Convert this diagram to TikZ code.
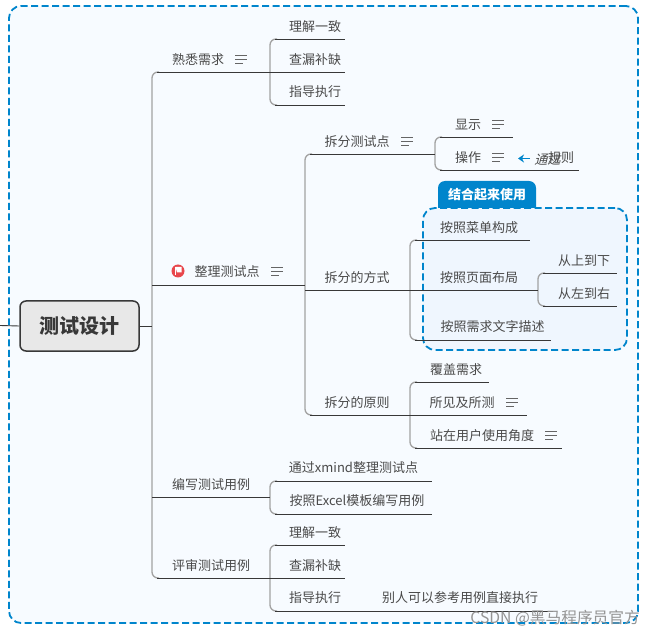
\documentclass[tikz,border=0pt]{standalone}
\usepackage{fontspec}
\usepackage{xcolor}
\usetikzlibrary{arrows.meta}
\setmainfont{Noto Sans CJK SC}
\definecolor{inkgray}{HTML}{4A4A4A}
\definecolor{forkgray}{HTML}{A2A2A2}
\definecolor{markblue}{HTML}{0085CC}
\definecolor{outerfill}{HTML}{F7FBFF}
\definecolor{selfill}{HTML}{EFF6FE}
\definecolor{flagred}{HTML}{E8474C}
\tikzset{
	topic/.style={inner sep=0pt,yshift=-0.6pt,text=inkgray,font=\fontsize{13}{15}\selectfont},
	uline/.style={draw=black!78,line width=0.9pt},
	elbow/.style={draw=forkgray,line width=1.3pt,rounded corners=6pt},
	selframe/.style={draw=markblue,line width=1.8pt,dash pattern=on 7pt off 3.5pt,rounded corners=12pt},
	noteicon/.pic={
		\draw[inkgray!85,line width=0.9pt] (-6,-4) -- (6,-4) (-6,0) -- (6,0) (-6,4) -- (2,4);
	}
}
\newcommand{\fork}[2]{\draw[elbow] (#1) ++(7,0) -- (#1) -- (#2) -- ++(7,0);}
\begin{document}
\begin{tikzpicture}[x=1pt,y=-1pt]
	\useasboundingbox (0,0) rectangle (656,636);
	\node (outer) [selframe,fill=outerfill,minimum width=629pt,minimum height=617pt] at (323.5,314.5) {};
	\node (selbox) [selframe,fill=selfill,minimum width=204pt,minimum height=142pt] at (525,279) {};
	\fill[markblue] (438,208) [rounded corners=7pt] -- (438,181) -- (536,181) [sharp corners] -- (536,208) -- cycle;
	\node (tab) [inner sep=0pt,text=white,font=\fontsize{13}{15}\selectfont\bfseries] at (487,194.5) {结合起来使用};
	% root
	\node (root) [draw=black!78,line width=1.5pt,fill=black!9,rounded corners=6pt,minimum width=119pt,minimum height=50pt,text=black!78,font=\fontsize{20}{22}\selectfont\bfseries] at (79.5,326) {测试设计};
	\coordinate (rootin) at (0,325.5);
	% main topics
	\node (xq) [topic] at (198,59) {熟悉需求};
	\coordinate (xqL) at (152,72); \coordinate (xqR) at (270,72);
	\node (zl) [topic] at (227,271) {整理测试点};
	\coordinate (zlL) at (152,285); \coordinate (zlR) at (305,285);
	\node (bx) [topic] at (211,484) {编写测试用例};
	\coordinate (bxL) at (152,497); \coordinate (bxR) at (270,497);
	\node (ps) [topic] at (211,565) {评审测试用例};
	\coordinate (psL) at (152,578); \coordinate (psR) at (270,578);
	% first group
	\node (lj) [topic] at (315,26) {理解一致};
	\coordinate (ljL) at (270,39); \coordinate (ljR) at (345,39);
	\node (cl) [topic] at (315,59) {查漏补缺};
	\coordinate (clL) at (270,72); \coordinate (clR) at (345,72);
	\node (zd) [topic] at (315,91) {指导执行};
	\coordinate (zdL) at (270,105); \coordinate (zdR) at (345,105);
	% split points
	\node (cf) [topic] at (357,141) {拆分测试点};
	\coordinate (cfL) at (305,154); \coordinate (cfR) at (435,154);
	\node (xs) [topic] at (468,124) {显示};
	\coordinate (xsL) at (435,137); \coordinate (xsR) at (513,137);
	\node (cz) [topic] at (468,157) {操作};
	\coordinate (czL) at (435,170); \coordinate (czR) at (513,170);
	\node (gz) [topic] at (561,157) {规则};
	\node (tg) [topic,xslant=0.25] at (548.5,159) {通过};
	\coordinate (gzR) at (579,170);
	\coordinate (jtA) at (530,158.5); \coordinate (jtB) at (518,158.5);
	% split ways
	\node (fs) [topic] at (357,277) {拆分的方式};
	\coordinate (fsL) at (305,290); \coordinate (fsR) at (410,290);
	\node (cd) [topic] at (479,227) {按照菜单构成};
	\coordinate (cdL) at (410,240); \coordinate (cdR) at (530,240);
	\node (ym) [topic] at (479,277) {按照页面布局};
	\coordinate (ymL) at (410,290); \coordinate (ymR) at (538,290);
	\node (ss) [topic] at (584,260) {从上到下};
	\coordinate (ssL) at (538,273); \coordinate (ssR) at (617,273);
	\node (zy) [topic] at (584,293) {从左到右};
	\coordinate (zyL) at (538,306); \coordinate (zyR) at (617,306);
	\node (wz) [topic] at (492.5,326) {按照需求文字描述};
	\coordinate (wzL) at (410,340); \coordinate (wzR) at (551,340);
	% split rules
	\node (yz) [topic] at (357,402) {拆分的原则};
	\coordinate (yzL) at (305,415); \coordinate (yzR) at (410,415);
	\node (fg) [topic] at (456,369) {覆盖需求};
	\coordinate (fgL) at (410,382); \coordinate (fgR) at (489,382);
	\node (sj) [topic] at (462,402) {所见及所测};
	\coordinate (sjL) at (410,415); \coordinate (sjR) at (527,415);
	\node (zz) [topic] at (482,435) {站在用户使用角度};
	\coordinate (zzL) at (410,448); \coordinate (zzR) at (562,448);
	% test cases
	\node (xm) [topic] at (353.5,467) {通过xmind整理测试点};
	\coordinate (xmL) at (270,481); \coordinate (xmR) at (432,481);
	\node (ex) [topic] at (357,500) {按照Excel模板编写用例};
	\coordinate (exL) at (270,514); \coordinate (exR) at (432,514);
	\node (lj2) [topic] at (315,532) {理解一致};
	\coordinate (lj2L) at (270,545); \coordinate (lj2R) at (345,545);
	\node (cl2) [topic] at (315,565) {查漏补缺};
	\coordinate (cl2L) at (270,578); \coordinate (cl2R) at (345,578);
	\node (zd2) [topic] at (315,597) {指导执行};
	\coordinate (zd2L) at (270,611); \coordinate (zd2R) at (360,611);
	\node (br) [topic] at (460,597) {别人可以参考用例直接执行};
	\coordinate (brR) at (553,611);
	% forks
	\fork{xqL}{psL}
	\fork{ljL}{zdL}
	\fork{cfL}{yzL}
	\fork{xsL}{czL}
	\fork{cdL}{wzL}
	\fork{ssL}{zyL}
	\fork{fgL}{zzL}
	\fork{xmL}{exL}
	\fork{lj2L}{zd2L}
	\draw[uline] (rootin) -- (root.west);
	\draw[uline] (root.east) -- (root.east -| xqL);
	% underlines
	\foreach \a/\b in {xqL/xqR,psL/psR,ljL/ljR,zdL/zdR,cfL/cfR,xsL/xsR,czL/gzR,cdL/cdR,ssL/ssR,zyL/zyR,wzL/wzR,yzL/yzR,fgL/fgR,zzL/zzR,xmL/xmR,exL/exR,lj2L/lj2R,zd2L/brR}
		\draw[uline,shorten <=5pt] (\a) -- (\b);
	\foreach \a/\b in {zlL/zlR,bxL/bxR,clL/clR,fsL/fsR,ymL/ymR,sjL/sjR,cl2L/cl2R}
		\draw[uline] (\a) -- (\b);
	\draw[-{Stealth[length=6pt,width=8pt]},markblue,line width=1.6pt] (jtA) -- (jtB);
	% icons
	\foreach \p in {(241,59),(277,271),(407,141),(498,124),(498,157),(512,402),(551,435)}
		\pic at \p {noteicon};
	\fill[flagred] (178,271) circle (6.5);
	\fill[white] (175.5,267) -- (181.5,267) -- (181.5,272.5) -- (177,272.5) -- cycle;
	\draw[white,line width=1pt] (175.5,267) -- (175.5,275.5);
	% mark
	\node (wm) [inner sep=0pt,anchor=east,text=black!42,font=\fontsize{15.7}{17}\selectfont] at (640,618) {CSDN @黑马程序员官方};
\end{tikzpicture}
\end{document}
